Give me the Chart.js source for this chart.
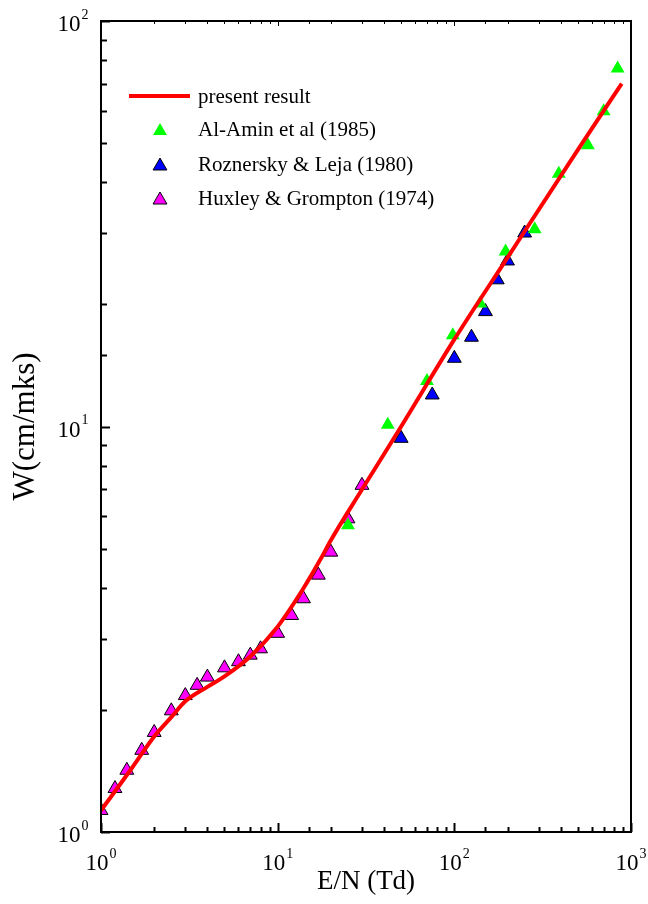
<!DOCTYPE html>
<html>
<head>
<meta charset="utf-8">
<title>W vs E/N</title>
<script src="https://cdn.jsdelivr.net/npm/chart.js@4.4.0/dist/chart.umd.min.js"></script>
<style>
  html, body { margin: 0; padding: 0; background: #fff; }
  #myChart { display: block; }
</style>
</head>
<body>
<canvas id="myChart" width="648" height="904"></canvas>
<script>
// W(cm/mks) en fonction de E/N (Td)

// courbe calculee
const presentX = [1, 1.5, 2, 2.5, 3, 4, 5, 7, 10, 14, 17.5, 20, 30, 50, 100, 200, 500, 886];
const presentY = [1.13, 1.44, 1.72, 1.92, 2.10, 2.28, 2.42, 2.71, 3.21, 3.99, 4.71, 5.24, 6.99, 10.0, 16.4, 26.1, 48.1, 70.1];

// Al-Amin et al (1985)
const alaminX = [25, 42, 70, 98, 140, 195, 285, 390, 570, 700, 840];
const alaminY = [5.71, 10.1, 12.95, 16.8, 20.1, 27.0, 30.65, 42.0, 49.4, 59.9, 76.4];

// Roznersky & Leja (1980)
const roznerskyX = [50, 75, 100, 125, 150, 175, 200, 250];
const roznerskyY = [9.35, 11.96, 14.73, 16.6, 19.2, 23.0, 25.6, 30.0];

// Huxley & Grompton (1974)
const huxleyX = [1, 1.2, 1.4, 1.7, 2, 2.5, 3, 3.5, 4, 5, 6, 7, 8, 10, 12, 14, 17, 20, 25, 30];
const huxleyY = [1.13, 1.28, 1.42, 1.59, 1.76, 1.99, 2.17, 2.30, 2.41, 2.54, 2.63, 2.73, 2.83, 3.09, 3.42, 3.76, 4.30, 4.90, 5.92, 7.16];

// etiquettes des graduations : base et exposant
const xTickValues = [1, 10, 100, 1000];
const xTickExp = ["0", "1", "2", "3"];
const yTickValues = [1, 10, 100];
const yTickExp = ["0", "1", "2"];

const fontFamily = "'Liberation Serif', 'Times New Roman', serif";

function toPoints(xs, ys) {
  return xs.map((x, i) => ({ x: x, y: ys[i] }));
}

function isMajor(v) {
  const l = Math.log10(v);
  return Math.abs(l - Math.round(l)) < 1e-9;
}

// cadre + graduations vers l'interieur
const frameTicks = {
  id: "frameTicks",
  afterDraw(chart) {
    const ctx = chart.ctx;
    const a = chart.chartArea;
    const xs = chart.scales.x;
    const ys = chart.scales.y;
    ctx.save();
    ctx.strokeStyle = "#000";
    ctx.lineCap = "butt";

    ctx.lineWidth = 2;
    ctx.strokeRect(a.left, a.top, a.right - a.left, a.bottom - a.top);

    xs.ticks.forEach((t) => {
      const px = Math.round(xs.getPixelForValue(t.value)) + 0.5;
      const len = isMajor(t.value) ? 9 : 5;
      ctx.lineWidth = 2;
      ctx.beginPath();
      ctx.moveTo(px, a.bottom);
      ctx.lineTo(px, a.bottom - len);
      ctx.stroke();
      ctx.lineWidth = 1;
      ctx.beginPath();
      ctx.moveTo(px, a.top);
      ctx.lineTo(px, a.top + (isMajor(t.value) ? 5 : 3));
      ctx.stroke();
    });
    ys.ticks.forEach((t) => {
      const py = Math.round(ys.getPixelForValue(t.value)) + 0.5;
      const len = isMajor(t.value) ? 9 : 6;
      ctx.lineWidth = 2;
      ctx.beginPath();
      ctx.moveTo(a.left, py);
      ctx.lineTo(a.left + len, py);
      ctx.stroke();
    });

    // etiquettes 10^n
    const big = "23px " + fontFamily;
    const small = "14px " + fontFamily;
    ctx.fillStyle = "#000";
    ctx.textBaseline = "alphabetic";
    ctx.textAlign = "left";
    function label(x0, base, exp) {
      ctx.font = big;
      ctx.fillText("10", x0, base);
      const w1 = ctx.measureText("10").width;
      ctx.font = small;
      ctx.fillText(exp, x0 + w1 + 1, base - 12.5);
    }
    function width(exp) {
      ctx.font = big;
      const w1 = ctx.measureText("10").width;
      ctx.font = small;
      return w1 + 1 + ctx.measureText(exp).width;
    }
    xTickValues.forEach((v, i) => {
      const px = xs.getPixelForValue(v);
      label(px - width(xTickExp[i]) / 2, a.bottom + 38, xTickExp[i]);
    });
    yTickValues.forEach((v, i) => {
      const py = ys.getPixelForValue(v);
      label(a.left - 12.5 - width(yTickExp[i]), py + 10, yTickExp[i]);
    });
    ctx.restore();
  }
};

// legende dans la zone du graphe
const insideLegend = {
  id: "insideLegend",
  afterDatasetsDraw(chart) {
    const ctx = chart.ctx;
    const items = chart.data.datasets;
    const x0 = 129, xText = 198;
    const rows = [96, 129, 164, 198];
    ctx.save();
    ctx.font = "21px " + fontFamily;
    ctx.textBaseline = "middle";
    items.forEach((ds, i) => {
      const y = rows[i];
      if (ds.showLine) {
        ctx.strokeStyle = ds.borderColor;
        ctx.lineWidth = 4;
        ctx.beginPath();
        ctx.moveTo(x0, y);
        ctx.lineTo(x0 + 61, y);
        ctx.stroke();
      } else {
        ctx.fillStyle = ds.backgroundColor;
        ctx.strokeStyle = ds.borderColor;
        ctx.lineWidth = ds.borderWidth;
        Chart.helpers.drawPoint(ctx, {
          pointStyle: "triangle",
          radius: 8,
          borderWidth: ds.borderWidth
        }, 160, y + 2);
      }
      ctx.fillStyle = "#000";
      ctx.fillText(ds.label, xText, y + 1);
    });
    ctx.restore();
  }
};

const data = {
  datasets: [
    {
      label: "present result",
      data: toPoints(presentX, presentY),
      showLine: true,
      borderColor: "#ff0000",
      borderWidth: 4,
      pointRadius: 0,
      cubicInterpolationMode: "monotone",
      fill: false,
    },
    {
      label: "Al-Amin et al (1985)",
      data: toPoints(alaminX, alaminY),
      pointStyle: "triangle",
      pointRadius: 8,
      backgroundColor: "#00ff00",
      borderColor: "#00ff00",
      borderWidth: 0,
    },
    {
      label: "Roznersky & Leja (1980)",
      data: toPoints(roznerskyX, roznerskyY),
      pointStyle: "triangle",
      pointRadius: 8,
      backgroundColor: "#0000ff",
      borderColor: "#000000",
      borderWidth: 1,
    },
    {
      label: "Huxley & Grompton (1974)",
      data: toPoints(huxleyX, huxleyY),
      pointStyle: "triangle",
      pointRadius: 8,
      backgroundColor: "#ff00ff",
      borderColor: "#000000",
      borderWidth: 1,
    },
  ],
};

const config = {
  type: "scatter",
  data: data,
  options: {
    responsive: false,
    animation: false,
    devicePixelRatio: 1,
    layout: {
      padding: { left: 0, right: 17, top: 21, bottom: 0 },
    },
    plugins: {
      legend: { display: false },
      tooltip: { enabled: false },
    },
    scales: {
      x: {
        type: "logarithmic",
        min: 1,
        max: 1000,
        afterFit: (s) => {
          s.height = 72;
          s.paddingLeft = 0; s.paddingRight = 0;
        },
        grid: { display: false, drawTicks: false },
        border: { display: false },
        ticks: { display: false, autoSkip: false },
        title: {
          display: true,
          text: "E/N (Td)",
          color: "#000",
          font: { family: fontFamily, size: 27 },
          padding: { top: 0, bottom: 6 },
        },
      },
      y: {
        type: "logarithmic",
        min: 1,
        max: 100,
        afterFit: (s) => {
          s.width = 101;
          s.paddingTop = 0; s.paddingBottom = 0;
        },
        grid: { display: false, drawTicks: false },
        border: { display: false },
        ticks: { display: false, autoSkip: false },
        title: {
          display: true,
          text: "W(cm/mks)",
          color: "#000",
          font: { family: fontFamily, size: 31 },
          padding: { top: 7, bottom: 0 },
        },
      },
    },
  },
  plugins: [frameTicks, insideLegend],
};

const context = document.getElementById("myChart").getContext("2d");
const chart = new Chart(context, config);
</script>
</body>
</html>
